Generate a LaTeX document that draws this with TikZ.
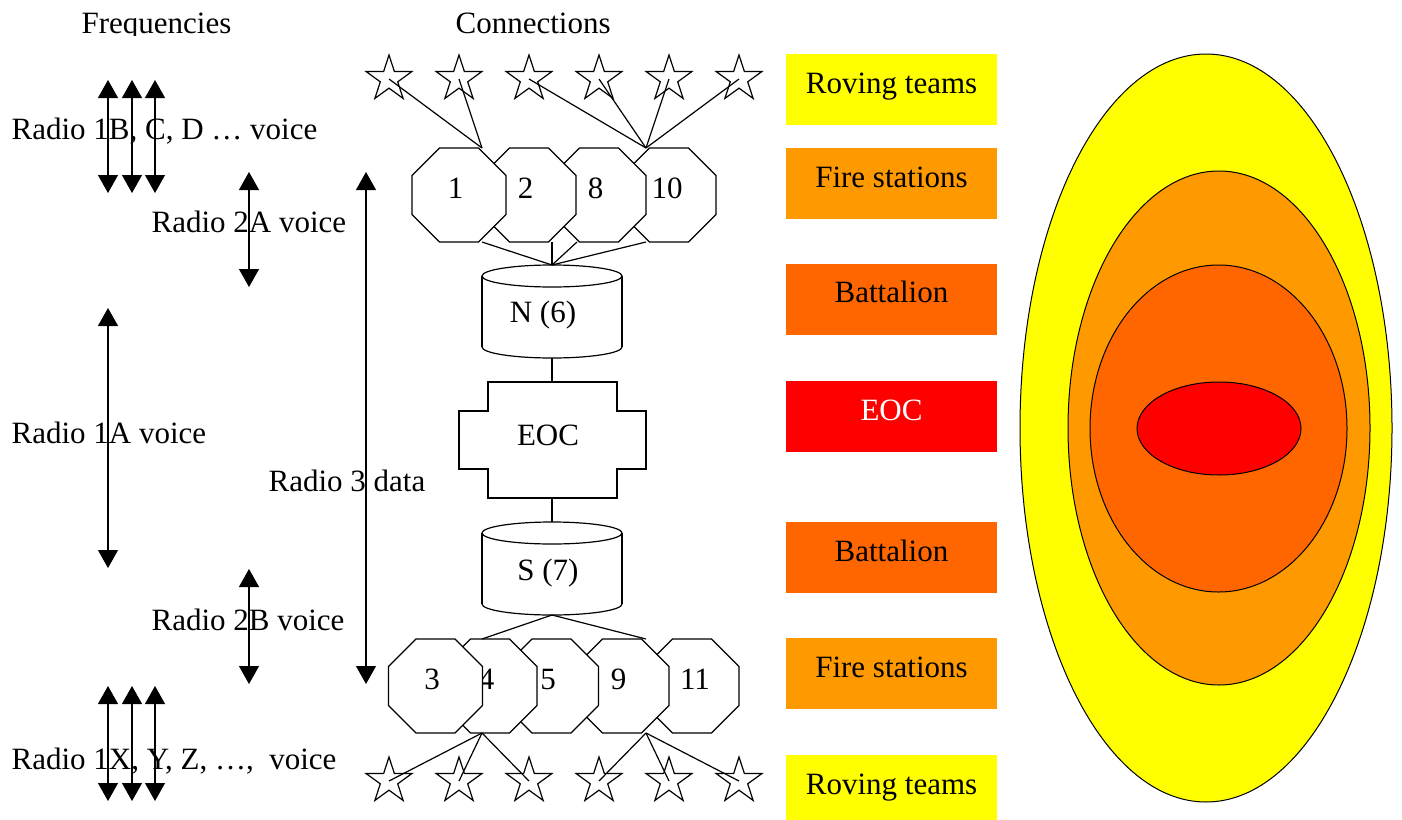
\documentclass[tikz,border=0pt]{standalone}
\usepackage{fontspec}
\setmainfont{Liberation Serif}
\usetikzlibrary{arrows.meta,shapes.geometric}
\definecolor{cyel}{HTML}{FFFF00}
\definecolor{corg}{HTML}{FF9900}
\definecolor{cdor}{HTML}{FF6600}
\definecolor{cred}{HTML}{FF0000}
\begin{document}
\begin{tikzpicture}[x=1pt,y=-1pt,line width=1.2pt,
  txt/.style={font=\fontsize{31}{37}\selectfont,inner sep=0pt},
  octa/.style={regular polygon,regular polygon sides=8,minimum size=101.7pt,inner sep=0pt,
    draw,fill=white,font=\fontsize{31}{37}\selectfont,text height=21pt,text depth=15pt},
  octl/.style={octa,execute at begin node={\hspace*{-7pt}}},
  starn/.style={star,star points=5,star point ratio=2.618,minimum size=48pt,inner sep=0pt,draw},
  dbl/.style={{Triangle[width=20pt,length=18pt]}-{Triangle[width=20pt,length=18pt]}},
  band/.style={minimum width=211pt,minimum height=71pt,inner sep=0pt,
    font=\fontsize{31}{37}\selectfont,text height=21pt,text depth=14pt}]
\useasboundingbox (0,0) rectangle (1402,819);

% ---- headings ----
\begin{scope}
  \clip (0,0) rectangle (400,35);
  \node[txt,anchor=base west] (freq) at (81,33) {Frequencies};
\end{scope}
\node[txt,anchor=base west] (conn) at (455,33) {Connections};

% ---- left labels ----
\node[txt,anchor=base west] (l1b) at (11,139) {Radio 1B, C, D … voice};
\node[txt,anchor=base west] (l2a) at (151,232) {Radio 2A voice};
\node[txt,anchor=base west] (l1a) at (11,443) {Radio 1A voice};
\node[txt,anchor=base west] (l3) at (268,491) {Radio 3 data};
\node[txt,anchor=base west] (l2b) at (151,630) {Radio 2B voice};
\node[txt,anchor=base west] (l1x) at (11,769) {Radio 1X, Y, Z, …,\ \ voice};

% ---- frequency arrows ----
\foreach \i/\x in {1/108,2/132,3/155}{
  \coordinate (ta\i) at (\x,80);  \coordinate (tb\i) at (\x,193);
  \draw[dbl] (ta\i) -- (tb\i);
  \coordinate (ba\i) at (\x,686); \coordinate (bb\i) at (\x,801);
  \draw[dbl] (ba\i) -- (bb\i);
}
\coordinate (r2aT) at (249,172); \coordinate (r2aB) at (249,287);
\draw[dbl] (r2aT) -- (r2aB);
\coordinate (r1aT) at (108,308); \coordinate (r1aB) at (108,568);
\draw[dbl] (r1aT) -- (r1aB);
\coordinate (r2bT) at (249,569); \coordinate (r2bB) at (249,684);
\draw[dbl] (r2bT) -- (r2bB);
\coordinate (r3T) at (366,172); \coordinate (r3B) at (366,684);
\draw[dbl] (r3T) -- (r3B);

% ---- stars ----
\foreach \i/\x in {1/389,2/459,3/529,4/599,5/669,6/739}{
  \node[starn] (ts\i) at (\x,79) {};
  \node[starn] (bs\i) at (\x,781) {};
}
\coordinate (hubT1) at (482,148);
\coordinate (hubT2) at (646,148);
\draw (ts1.center) -- (hubT1);
\draw (ts2.center) -- (hubT1);
\foreach \i in {3,4,5,6}{ \draw (ts\i.center) -- (hubT2); }

% ---- top octagons ----
\node[octa] (o10) at (669,195) {\hspace*{-4pt}10};
\node[octl] (o8) at (599,195) {8};
\node[octl] (o2) at (529,195) {2};
\node[octl] (o1) at (459,195) {1};

% ---- N cylinder ----
\coordinate (Ntop) at (552,265);
\coordinate (Nbot) at (552,358);
\draw[fill=white] (552,347) ellipse [x radius=70,y radius=11];
\fill[white] (482,276) rectangle (622,347);
\draw (482,276) -- (482,347);
\draw (622,276) -- (622,347);
\draw[fill=white] (552,276) ellipse [x radius=70,y radius=11];
\node[txt,anchor=base] (ncyl) at (543,322) {N (6)};

\coordinate (p1) at (482,242);
\coordinate (p2) at (552,242);
\coordinate (p3) at (577,242);
\coordinate (p4) at (646,242);
\foreach \p in {p1,p2,p3,p4}{ \draw (\p) -- (Ntop); }

% ---- EOC ----
\draw[fill=white] (488,382) -- (617,382) -- (617,411) -- (646,411) -- (646,469) -- (617,469)
  -- (617,498) -- (488,498) -- (488,469) -- (459,469) -- (459,411) -- (488,411) -- cycle;
\node[txt,anchor=base] (eoc) at (548,445) {EOC};
\coordinate (EOCtop) at (552,382);
\coordinate (EOCbot) at (552,498);
\draw (Nbot) -- (EOCtop);

% ---- S cylinder ----
\coordinate (Stop) at (552,522);
\coordinate (Sbot) at (552,615);
\draw[fill=white] (552,604) ellipse [x radius=70,y radius=11];
\fill[white] (482,533) rectangle (622,604);
\draw (482,533) -- (482,604);
\draw (622,533) -- (622,604);
\draw[fill=white] (552,533) ellipse [x radius=70,y radius=11];
\node[txt,anchor=base] (scyl) at (548,580) {S (7)};
\draw (EOCbot) -- (Stop);

% ---- bottom octagons ----
\node[octa] (o11) at (692,686) {\hspace*{6pt}11};
\node[octl] (o9) at (622,686) {9};
\node[octl] (o5) at (551.5,686) {5};
\node[octl] (o4) at (490,686) {4};
\node[octl] (o3) at (435.5,686) {3};

\coordinate (q1) at (482,639);
\coordinate (q2) at (646,639);
\draw (Sbot) -- (q1);
\draw (Sbot) -- (q2);

\coordinate (hubB1) at (482,733);
\coordinate (hubB2) at (646,733);
\foreach \i in {1,2,3}{ \draw (hubB1) -- (bs\i.center); }
\foreach \i in {4,5,6}{ \draw (hubB2) -- (bs\i.center); }

% ---- colour bands ----
\node[band,fill=cyel] (b1) at (891.5,89.5) {Roving teams};
\node[band,fill=corg] (b2) at (891.5,183.5) {Fire stations};
\node[band,fill=cdor] (b3) at (891.5,299) {Battalion};
\node[band,fill=cred,text=white] (b4) at (891.5,416.5) {EOC};
\node[band,fill=cdor] (b5) at (891.5,557.5) {Battalion};
\node[band,fill=corg] (b6) at (891.5,673.5) {Fire stations};
\node[band,fill=cyel] (b7) at (891.5,790.5) {Roving teams};

% ---- zones ----
\begin{scope}[line width=1pt]
\draw[fill=cyel] (1206,428) ellipse [x radius=186,y radius=374];
\draw[fill=corg] (1219,428) ellipse [x radius=151,y radius=257];
\draw[fill=cdor] (1218.5,428.5) ellipse [x radius=128.5,y radius=163.5];
\draw[fill=cred] (1219,428.5) ellipse [x radius=82,y radius=46.5];
\end{scope}
\end{tikzpicture}
\end{document}
